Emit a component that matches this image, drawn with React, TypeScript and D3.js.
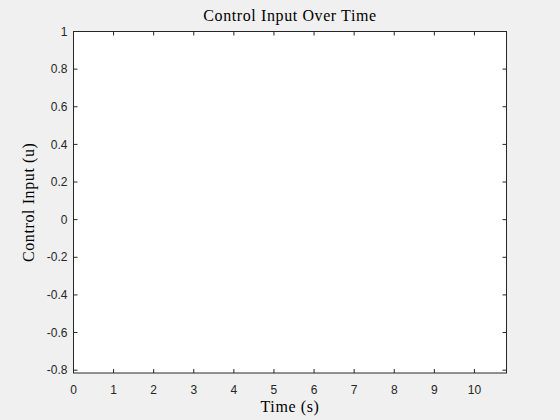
import React from "react";
import * as d3 from "d3";

// axis ranges (empty axes, no data drawn)
const xDomain = [0, 10.8];
const yDomain = [-0.815, 1];
const xTicks = [0, 1, 2, 3, 4, 5, 6, 7, 8, 9, 10];
const yTicks = [-0.8, -0.6, -0.4, -0.2, 0, 0.2, 0.4, 0.6, 0.8, 1];

const title = "Control Input Over Time";
const xLabel = "Time (s)";
const yLabel = "Control Input (u)";

const App: React.FC = () => {
  const width = 560;
  const height = 420;
  const margin = { top: 31.5, right: 53.5, bottom: 47, left: 73.5 };
  const innerW = width - margin.left - margin.right;
  const innerH = height - margin.top - margin.bottom;

  const x = d3.scaleLinear().domain(xDomain).range([0, innerW]);
  const y = d3.scaleLinear().domain(yDomain).range([innerH, 0]);

  const tickLen = 4;
  const axisColor = "#262626";
  const tickFont = "'Liberation Sans', Arial, sans-serif";
  const labelFont = "'Liberation Serif', 'DejaVu Serif', serif";
  const labelSize = 16;
  const labelSpacing = 0.6;

  return (
    <div style={{ position: "absolute", left: 0, top: 0 }}>
      <svg width={width} height={height} style={{ display: "block" }}>
        <rect width={width} height={height} fill="#f0f0f0" />
        <g transform={`translate(${margin.left},${margin.top})`}>
          <rect width={innerW} height={innerH} fill="#ffffff" />

          {/* x ticks, bottom and top, pointing inward */}
          {xTicks.map((t) => (
            <g key={`x${t}`}>
              <line
                x1={x(t)}
                x2={x(t)}
                y1={innerH}
                y2={innerH - tickLen}
                stroke={axisColor}
              />
              <line x1={x(t)} x2={x(t)} y1={0} y2={tickLen} stroke={axisColor} />
              <text
                x={x(t)}
                y={innerH + 21}
                textAnchor="middle"
                fontFamily={tickFont}
                fontSize={12}
                fill={axisColor}
              >
                {String(t)}
              </text>
            </g>
          ))}

          {/* y ticks, left and right */}
          {yTicks.map((t) => (
            <g key={`y${t}`}>
              <line x1={0} x2={tickLen} y1={y(t)} y2={y(t)} stroke={axisColor} />
              <line
                x1={innerW}
                x2={innerW - tickLen}
                y1={y(t)}
                y2={y(t)}
                stroke={axisColor}
              />
              <text
                x={-6}
                y={y(t)}
                dy="0.35em"
                textAnchor="end"
                fontFamily={tickFont}
                fontSize={12}
                fill={axisColor}
              >
                {String(t)}
              </text>
            </g>
          ))}

          {/* box */}
          <rect
            width={innerW}
            height={innerH}
            fill="none"
            stroke={axisColor}
            strokeWidth={1}
          />

          <text
            x={innerW / 2}
            y={-10.5}
            textAnchor="middle"
            fontFamily={labelFont}
            fontSize={labelSize}
            letterSpacing={labelSpacing}
            fill="#000"
          >
            {title}
          </text>
          <text
            x={innerW / 2}
            y={innerH + 39}
            textAnchor="middle"
            fontFamily={labelFont}
            fontSize={labelSize}
            letterSpacing={labelSpacing}
            fill="#000"
          >
            {xLabel}
          </text>
          <text
            transform={`translate(${-40},${innerH / 2}) rotate(-90)`}
            textAnchor="middle"
            fontFamily={labelFont}
            fontSize={labelSize}
            letterSpacing={labelSpacing}
            fill="#000"
          >
            {yLabel}
          </text>
        </g>
      </svg>
    </div>
  );
};

export default App;
